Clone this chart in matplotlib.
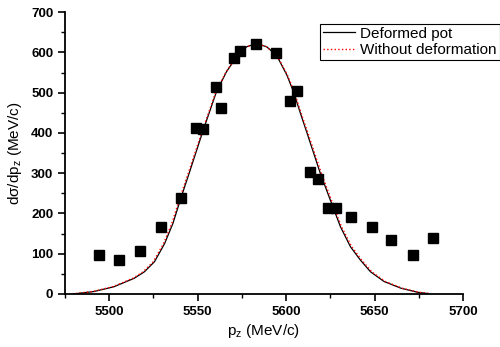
import matplotlib
matplotlib.use('Agg')
import matplotlib.pyplot as plt
from matplotlib.ticker import MultipleLocator

plt.rcParams['font.family'] = ['Liberation Sans', 'DejaVu Sans']
plt.rcParams['mathtext.fontset'] = 'custom'
plt.rcParams['mathtext.rm'] = 'Liberation Sans'
plt.rcParams['mathtext.default'] = 'regular'

# measured points
pz = [5494.3, 5505.7, 5517.6, 5529.5, 5540.3, 5548.9, 5552.8, 5560.2, 5563.1,
      5570.5, 5573.9, 5583.0, 5594.3, 5602.3, 5606.3, 5613.6, 5618.2, 5623.9,
      5628.4, 5636.9, 5648.3, 5659.1, 5671.6, 5683.0]
dsig = [96, 84, 107, 166, 238, 412, 410, 514, 462,
        586, 603, 620, 598, 479, 504, 303, 285, 213,
        213, 191, 166, 134, 97, 139]

# deformed potential curve
def_x = [5480, 5491.5, 5502.8, 5514.2, 5519.9, 5525.6, 5531.3, 5536, 5540.3,
         5545.5, 5553, 5560.6, 5566.3, 5572, 5577.7, 5583.3, 5589, 5594.7,
         5600.4, 5604.2, 5608, 5611.8, 5619.3, 5625, 5630.7, 5636.4, 5642,
         5647.7, 5655.3, 5665, 5674.4, 5680]
def_y = [0, 6, 18, 39, 55, 80, 125, 175, 235,
         304, 405, 502, 552, 589, 614, 622, 614, 592,
         544, 502, 450, 400, 300, 233, 167, 117, 84,
         55, 31, 14, 4, 1]

# without deformation curve (a hair wider on the flanks)
nodef_x = [5479, 5490.8, 5502.1, 5513.5, 5519.2, 5524.9, 5530.7, 5535.4, 5539.7,
           5545, 5552.6, 5560.3, 5566.1, 5571.9, 5577.7, 5583.3, 5589, 5594.9,
           5600.7, 5604.6, 5608.4, 5612.3, 5619.9, 5625.6, 5631.3, 5637.1, 5642.7,
           5648.4, 5656, 5665.7, 5675.2, 5681]
nodef_y = def_y

fig = plt.figure(figsize=(5.0, 3.47), dpi=100)
ax = fig.add_axes([0.13, 0.153, 0.796, 0.812])

ax.plot(pz, dsig, 's', color='black', ms=6.5, zorder=3)
ax.plot(def_x, def_y, '-', color='black', lw=0.9, label='Deformed pot')
ax.plot(nodef_x, nodef_y, ':', color='red', lw=1.0, label='Without deformation')

ax.set_xlim(5475, 5700)
ax.set_ylim(0, 700)
ax.xaxis.set_major_locator(MultipleLocator(50))
ax.xaxis.set_minor_locator(MultipleLocator(25))
ax.yaxis.set_major_locator(MultipleLocator(100))
ax.yaxis.set_minor_locator(MultipleLocator(50))

for s in ['top', 'right']:
    ax.spines[s].set_visible(False)
for s in ['left', 'bottom']:
    ax.spines[s].set_linewidth(1.3)
ax.tick_params(which='major', direction='out', length=5, width=1.2, labelsize=9.5)
ax.tick_params(which='minor', direction='out', length=3, width=1.0)
for lab in ax.get_xticklabels() + ax.get_yticklabels():
    lab.set_fontweight('bold')

ax.set_xlabel('p$_z$ (MeV/c)', fontsize=11, labelpad=3)
ax.set_ylabel('d\u03c3/dp$_z$ (MeV/c)', fontsize=11, labelpad=5)

leg = ax.legend(loc='upper right', bbox_to_anchor=(0.999, 0.932),
                bbox_transform=fig.transFigure, fontsize=11, frameon=True,
                fancybox=False, framealpha=1, edgecolor='black',
                handlelength=2.1, labelspacing=0.15, borderpad=0.2,
                handletextpad=0.3, borderaxespad=0)
leg.get_frame().set_linewidth(0.8)

fig.savefig('out.png', dpi=100)
